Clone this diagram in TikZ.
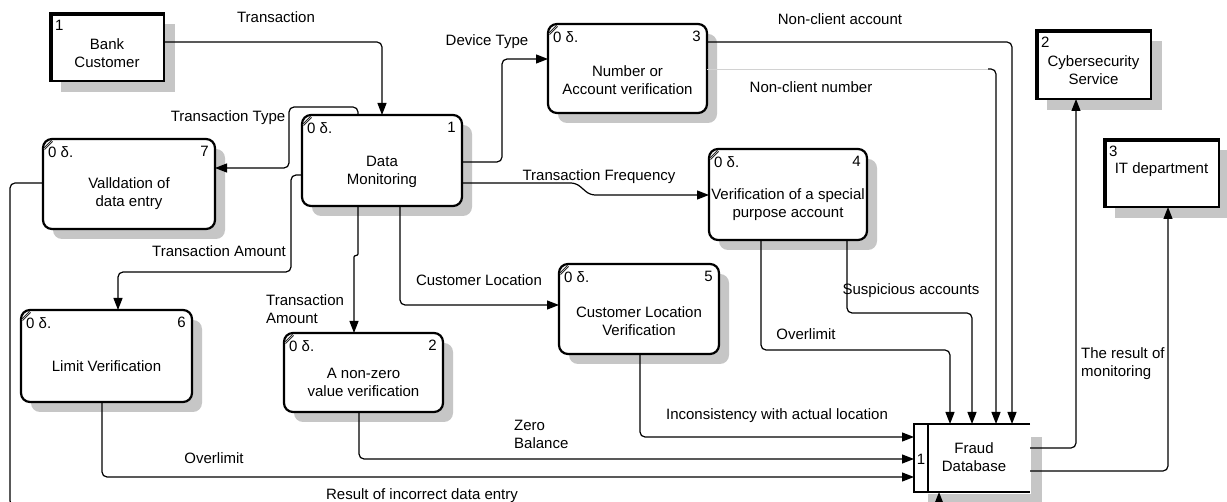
\documentclass[tikz,border=0pt]{standalone}
\usepackage{fontspec}
\setmainfont{Liberation Sans}
\usetikzlibrary{arrows.meta,shadows,calc}

\tikzset{
  proc/.style={draw, line width=2.2pt, rounded corners=9pt, fill=white, inner sep=0pt, outer sep=0pt,
    drop shadow={shadow xshift=10pt, shadow yshift=-10pt, fill=gray!45, opacity=1}},
  ext/.style={draw, line width=1.8pt, fill=white, inner sep=0pt, outer sep=0pt,
    drop shadow={shadow xshift=11pt, shadow yshift=-11pt, fill=gray!45, opacity=1},
    path picture={\draw[line width=6pt] (path picture bounding box.south west) -- (path picture bounding box.north west) -- (path picture bounding box.north east);}},
  flow/.style={line width=1.2pt, rounded corners=5pt, -{Triangle[length=12pt,width=9pt]}},
  lbl/.style={inner sep=0pt, align=center},
  lbll/.style={inner sep=0pt, align=left},
  dbline/.style={line width=2pt},
  shade/.style={fill=gray!45},
}

\newcommand{\procbox}[8]{%
  \node[proc, minimum width={(#4-#2)*1pt}, minimum height={(#5-#3)*1pt}] (#1) at ({(#2+#4)/2},{(#3+#5)/2}) {};
  \draw[line width=0.7pt, double=gray!60, double distance=0.9pt] ([xshift=1pt,yshift=-10pt]#1.north west) -- ([xshift=9pt,yshift=-2pt]#1.north west);
  \node[lbl, anchor=north west] (#1-c) at ([xshift=5pt,yshift=-7pt]#1.north west) {0 δ.};
  \node[lbl, anchor=north east] (#1-n) at ([xshift=-6pt,yshift=-7pt]#1.north east) {#6};
  \node[lbl] (#1-t) at ([yshift=#8pt]#1.center) {#7};
}
\newcommand{\extbox}[8]{%
  \node[ext, minimum width={(#4-#2)*1pt}, minimum height={(#5-#3)*1pt}] (#1) at ({(#2+#4)/2},{(#3+#5)/2}) {};
  \node[lbl, anchor=north west] (#1-n) at ([xshift=5pt,yshift=-7pt]#1.north west) {#6};
  \node[lbl] (#1-t) at ([yshift=#8pt]#1.center) {#7};
}

\begin{document}
\begin{tikzpicture}[x=1pt, y=-1pt, every node/.style={font=\fontsize{15}{18}\selectfont}]
\useasboundingbox (0,0) rectangle (1227,502);
\fill[white] (0,0) rectangle (1227,502);
\clip (0,0) rectangle (1227,502);

% external entities
\extbox{e1}{50}{13}{164}{81}{1}{Bank\\Customer}{-6}
\extbox{e2}{1036}{30}{1151}{99}{2}{Cybersecurity\\Service}{-6}
\extbox{e3}{1104}{139}{1219}{207}{3}{IT department}{3}

% processes
\procbox{p1}{302}{115}{462}{206}{1}{Data\\Monitoring}{-11}
\procbox{p7}{43}{139}{215}{229}{7}{Valldation of\\data entry}{-10}
\procbox{p3}{548}{24}{707}{113}{3}{Number or\\Account verification}{-12}
\procbox{p4}{709}{149}{867}{240}{4}{Verification of a special\\purpose account}{-10}
\procbox{p5}{559}{264}{719}{354}{5}{Customer Location\\Verification}{-12}
\procbox{p6}{21}{310}{192}{402}{6}{Limit Verification}{-10}
\procbox{p2}{284}{333}{443}{412}{2}{A non-zero\\value verification}{-10}

% data store
\node[inner sep=0pt, outer sep=0pt, minimum width=116pt, minimum height=68pt] (fdb) at (972,458) {};
\fill[shade] (1031,437) rectangle (1042,510);
\fill[shade] (928,494) rectangle (1042,510);
\draw[dbline] (fdb.north east) -- (fdb.north west) -- (fdb.south west) -- (fdb.south east);
\draw[dbline] ([xshift=14pt]fdb.north west) -- ([xshift=14pt]fdb.south west);
\node[lbl] (fdb-n) at (921,459) {1};
\node[lbl] (fdb-t) at (974,457) {Fraud\\Database};

% connectors
\draw[flow] (e1.east |- 0,42) -| (p1.north);
\draw[flow] (p1.north -| 358,0) -- (358,107) -- (289,107) -- (289,168) -- (p7.east |- 0,168);
\draw[flow] (p1.west |- 0,175) -- (291,175) -- (291,272) -- (118,272) -- (p6.north -| 118,0);
\draw[flow] (p1.south -| 358,0) -- (358,249) .. controls (358,256) and (354,255) .. (354,262) -- (p2.north -| 354,0);
\draw[flow] (p1.south -| 400,0) -- (400,305) -- (p5.west |- 0,305);
\draw[flow] (p1.east |- 0,162) -- (502,162) -- (502,59) -- (p3.west |- 0,59);
\draw[flow] (p1.east |- 0,183) -- (576,183) -- (590,195) -- (p4.west |- 0,195);
\draw[flow] (p3.east |- 0,42) -- (1012,42) -- (fdb.north -| 1012,0);
\coordinate (ncn) at (988,69);
\draw[line width=0.8pt, gray!35] (p3.east |- ncn) -- (ncn);
\draw[flow] (ncn) -- (996,69) -- (fdb.north -| 996,0);
\draw[flow] (p4.south -| 847,0) -- (847,313) -- (972,313) -- (fdb.north -| 972,0);
\draw[flow] (p4.south -| 761,0) -- (761,350) -- (950,350) -- (fdb.north -| 950,0);
\draw[flow] (p5.south -| 640,0) -- (640,437) -- (fdb.west |- 0,437);
\draw[flow] (p2.south -| 359,0) -- (359,459) -- (fdb.west |- 0,459);
\draw[flow] (p6.south -| 102,0) -- (102,477) -- (fdb.west |- 0,477);
\draw[flow] (p7.west |- 0,183) -- (10,183) -- (10,506) -- (939,506) -- (fdb.south -| 939,0);
\draw[flow] (fdb.east |- 0,448) -- (1076,448) -- (e2.south -| 1076,0);
\draw[flow] (fdb.east |- 0,471) -- (1168,471) -- (e3.south -| 1168,0);

% labels
\node[lbl, anchor=base] (l-tr) at (276,23) {Transaction};
\node[lbl] (l-tt) at (228,118) {Transaction Type};
\node[lbl] (l-ta1) at (219,251) {Transaction Amount};
\node[lbll, anchor=west] (l-ta2) at (266,309) {Transaction\\Amount};
\node[lbl] (l-cl) at (479,280) {Customer Location};
\node[lbl] (l-dt) at (487,42) {Device Type};
\node[lbl] (l-tf) at (599,177) {Transaction Frequency};
\node[lbl] (l-nca) at (840,19) {Non-client account};
\node[lbl] (l-ncn) at (811,87) {Non-client number};
\node[lbl] (l-sa) at (911,291) {Suspicious accounts};
\node[lbl] (l-ol4) at (806,334) {Overlimit};
\node[lbl] (l-inc) at (777,416) {Inconsistency with actual location};
\node[lbll, anchor=west] (l-zb) at (514,434) {Zero\\Balance};
\node[lbl] (l-ol6) at (214,458) {Overlimit};
\node[lbl] (l-res) at (422,496) {Result of incorrect data entry};
\node[lbll, anchor=west] (l-mon) at (1081,364) {The result of\\monitoring};
\end{tikzpicture}
\end{document}
